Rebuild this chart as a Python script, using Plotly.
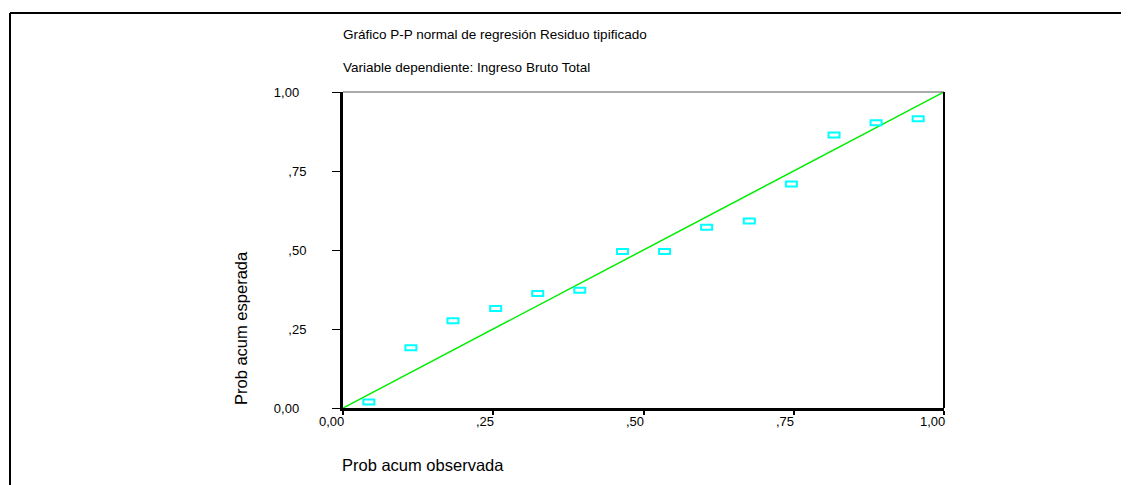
import plotly.graph_objects as go

# Data
obs_prob = [0.043, 0.113, 0.183, 0.254, 0.324, 0.394, 0.465, 0.535, 0.605, 0.676, 0.746, 0.817, 0.887, 0.957]
exp_prob = [0.019, 0.191, 0.276, 0.315, 0.362, 0.373, 0.495, 0.495, 0.572, 0.592, 0.709, 0.864, 0.903, 0.915]
tick_vals = [0, 0.25, 0.5, 0.75, 1.0]
tick_text = ["0,00", ",25", ",50", ",75", "1,00"]

# page body has an 8px margin, so the figure is placed at (8, 8)
OFF = 8
W, H = 1129 - OFF, 485 - OFF
L, R, T, B = 343 - OFF, 185, 92 - OFF, 77
pw, ph = W - L - R, H - T - B

def px_x(p):
    # p given in window pixels
    return (p - OFF - L) / pw

def px_y(p):
    return (H - B - (p - OFF)) / ph

font = "Liberation Sans, Arial, sans-serif"

fig = go.Figure()

# reference line
fig.add_trace(go.Scatter(x=[0, 1], y=[0, 1], mode="lines",
                         line=dict(color="#00EE00", width=1.5),
                         hoverinfo="skip", showlegend=False))

# hollow rectangle markers, anchored on the data values
shapes = []
for xv, yv in zip(obs_prob, exp_prob):
    shapes.append(dict(type="rect", xref="x", yref="y",
                       xsizemode="pixel", ysizemode="pixel",
                       xanchor=xv, yanchor=yv, x0=-5.5, x1=5.5, y0=-2.5, y1=2.5,
                       line=dict(color="#00FFFF", width=2), fillcolor="white"))

# top and right frame of the plot area
shapes.append(dict(type="line", xref="paper", yref="paper", x0=0, x1=1, y0=1, y1=1,
                   line=dict(color="#555555", width=1)))
shapes.append(dict(type="line", xref="paper", yref="paper", x0=1, x1=1, y0=0, y1=1,
                   line=dict(color="black", width=2)))
# outer border (top and left)
shapes.append(dict(type="line", xref="paper", yref="paper", x0=px_x(10), x1=px_x(1140),
                   y0=px_y(13), y1=px_y(13), line=dict(color="black", width=2)))
shapes.append(dict(type="line", xref="paper", yref="paper", x0=px_x(10), x1=px_x(10),
                   y0=px_y(13), y1=px_y(495), line=dict(color="black", width=2)))

annotations = [
    dict(text="Gráfico P-P normal de regresión Residuo tipificado", xref="paper", yref="paper",
         x=px_x(341), y=px_y(35), xanchor="left", yanchor="middle", showarrow=False,
         font=dict(family=font, size=13.5, color="black")),
    dict(text="Variable dependiente: Ingreso Bruto Total", xref="paper", yref="paper",
         x=px_x(341), y=px_y(67.5), xanchor="left", yanchor="middle", showarrow=False,
         font=dict(family=font, size=13.5, color="black")),
    dict(text="Prob acum esperada", xref="paper", yref="paper", textangle=-90,
         x=px_x(241), y=px_y(328), xanchor="center", yanchor="middle", showarrow=False,
         font=dict(family=font, size=16.5, color="black")),
    dict(text="Prob acum observada", xref="paper", yref="paper",
         x=px_x(340), y=px_y(465), xanchor="left", yanchor="middle", showarrow=False,
         font=dict(family=font, size=16.5, color="black")),
]
# x tick labels end at their tick (right aligned), as in the original
for tv, tt in zip(tick_vals, tick_text):
    annotations.append(dict(text=tt, xref="x", yref="paper", x=tv, y=px_y(421.5),
                            xanchor="right", yanchor="middle", showarrow=False,
                            xshift=1.5, borderpad=0,
                            font=dict(family=font, size=13, color="black")))

# y labels: the 4-character ones sit a little further left
y_text = [t + "\u00a0\u00a0" if len(t) == 4 else t for t in tick_text]

fig.update_layout(
    width=W, height=H,
    margin=dict(l=L, r=R, t=T, b=B),
    paper_bgcolor="white", plot_bgcolor="white",
    shapes=shapes, annotations=annotations,
    showlegend=False,
)
fig.update_xaxes(range=[0, 1], tickvals=tick_vals, showticklabels=False,
                 showline=True, linewidth=3, linecolor="black",
                 ticks="outside", ticklen=4, tickwidth=2, tickcolor="black",
                 showgrid=False, zeroline=False)
fig.update_yaxes(range=[0, 1], tickvals=tick_vals, ticktext=y_text,
                 showline=True, linewidth=3, linecolor="black",
                 ticks="outside", ticklen=8, tickwidth=1, tickcolor="black",
                 ticklabelstandoff=23,
                 showgrid=False, zeroline=False,
                 tickfont=dict(family=font, size=13, color="black"))

fig.write_html("out.html")
